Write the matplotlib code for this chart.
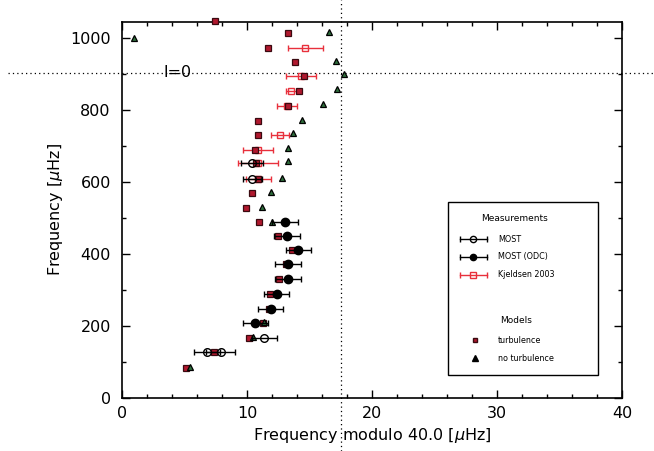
import matplotlib
matplotlib.use('Agg')
import matplotlib.pyplot as plt
from matplotlib.patches import Rectangle
from matplotlib.ticker import MultipleLocator

# models with turbulence (red squares): x = frequency modulo 40, y = frequency
turb_x = [7.44, 13.3, 11.7, 13.84, 14.6, 14.16, 13.25, 10.9, 10.9, 10.64, 10.7, 10.9, 10.4,
          9.9, 10.96, 12.5, 13.6, 13.1, 12.56, 11.84, 11.8, 11.3, 10.16, 7.36, 5.1]
turb_y = [1047, 1013, 971, 934, 893, 853, 812, 768, 731, 690, 653, 609, 570,
          528, 488, 450, 410, 371, 330, 288, 248, 208, 168, 127, 82]

# models without turbulence (triangles)
noturb_x = [1.0, 16.6, 17.1, 17.8, 17.2, 16.1, 14.4, 13.65, 13.3, 13.3, 12.8, 11.9, 11.2,
            12.0, 11.4, 10.5, 5.44]
noturb_y = [999, 1016, 937, 899, 858, 816, 773, 736, 694, 657, 611, 571, 531,
            490, 210, 170, 85]

# Kjeldsen 2003
kj_x = [14.65, 14.3, 13.55, 13.2, 12.65, 10.9, 10.9, 10.9]
kj_err = [1.4, 1.2, 0.45, 0.8, 0.75, 1.2, 1.6, 1.0]
kj_y = [971, 893, 853, 812, 731, 690, 653, 609]

# MOST
most_x = [10.4, 10.43, 11.4, 6.8, 7.9]
most_err = [0.9, 0.78, 1.0, 1.04, 1.14]
most_y = [653, 609, 168, 127, 127]

# MOST (ODC)
odc_x = [13.05, 13.2, 14.1, 13.27, 13.27, 12.38, 11.9, 10.68]
odc_err = [1.05, 1.04, 1.0, 1.03, 1.03, 1.02, 1.0, 1.03]
odc_y = [488, 450, 410, 371, 330, 288, 248, 208]

fig = plt.figure(figsize=(6.54, 4.51), dpi=100)
ax = fig.add_axes([0.1865, 0.1175, 0.7645, 0.8345])

sq_col = '#b0182e'
tri_col = '#2f6e3c'
kj_col = '#e8303c'

ax.errorbar(kj_x, kj_y, xerr=kj_err, fmt='s', ms=4.5, mfc='none', mec=kj_col,
            ecolor=kj_col, elinewidth=1.0, capsize=2.5, clip_on=False, zorder=3)
ax.plot(turb_x, turb_y, 's', ms=4.3, mfc=sq_col, mec='#3a0a10', mew=0.9, clip_on=False, zorder=4)
ax.plot(noturb_x, noturb_y, '^', ms=5, mfc=tri_col, mec='black', mew=0.9, clip_on=False, zorder=4)
ax.errorbar(most_x, most_y, xerr=most_err, fmt='o', ms=5.5, mfc='none', mec='black', mew=1.0,
            ecolor='black', elinewidth=1.0, capsize=2.5, clip_on=False, zorder=5)
ax.errorbar(odc_x, odc_y, xerr=odc_err, fmt='o', ms=6, mfc='black', mec='black',
            ecolor='black', elinewidth=1.0, capsize=2.5, clip_on=False, zorder=5)

# dotted guide lines reaching past the frame
ax.axvline(17.5, ymin=-0.141, ymax=1.058, color='black', lw=0.9, ls=(0, (1, 2.5)), clip_on=False)
ax.axhline(903, xmin=-0.228, xmax=1.07, color='black', lw=0.9, ls=(0, (1, 2.5)), clip_on=False)
ax.text(3.3, 905, 'l=0', fontsize=11.5, va='center', ha='left')

ax.set_xlim(0, 40)
ax.set_ylim(0, 1045)
ax.xaxis.set_major_locator(MultipleLocator(10))
ax.xaxis.set_minor_locator(MultipleLocator(2))
ax.yaxis.set_major_locator(MultipleLocator(200))
ax.yaxis.set_minor_locator(MultipleLocator(100))
ax.tick_params(which='both', direction='in', top=True, right=True, labelsize=11.5)
ax.tick_params(which='major', length=6, width=1)
ax.tick_params(which='minor', length=3, width=1)
ax.tick_params(axis='y', pad=8)
ax.tick_params(axis='x', pad=6)
for s in ax.spines.values():
    s.set_linewidth(1.2)

ax.set_xlabel('Frequency modulo 40.0 [$\\mu$Hz]', fontsize=11.5, labelpad=3)
ax.set_ylabel('Frequency [$\\mu$Hz]', fontsize=11.5, labelpad=4)

# legend box
tr = ax.transAxes
ax.add_patch(Rectangle((0.653, 0.061), 0.30, 0.461, transform=tr, fc='white',
                       ec='black', lw=1.0, zorder=6))
ax.text(0.786, 0.4775, 'Measurements', transform=tr, fontsize=6.5, ha='center', va='center', zorder=7)
ax.text(0.789, 0.2054, 'Models', transform=tr, fontsize=6.5, ha='center', va='center', zorder=7)

entries = [(0.4217, 'MOST', 'black', 'none'),
           (0.3755, 'MOST (ODC)', 'black', 'black'),
           (0.327, 'Kjeldsen 2003', kj_col, 'none')]
for ly, lab, col, fill in entries:
    ax.plot([0.676, 0.7294], [ly, ly], color=col, lw=1.0, transform=tr, zorder=7, clip_on=False)
    ax.plot([0.676, 0.7294], [ly, ly], ls='none', marker='|', ms=5, mew=1.0, color=col,
            transform=tr, zorder=7)
    mk = 's' if col == kj_col else 'o'
    ax.plot([0.703], [ly], marker=mk, ms=4.5, mfc=fill, mec=col, transform=tr, zorder=8)
    ax.text(0.7526, ly, lab, transform=tr, fontsize=5.8, va='center', zorder=7)

ax.plot([0.706], [0.1541], 's', ms=3.5, mfc=sq_col, mec='#3a0a10', transform=tr, zorder=8)
ax.text(0.7526, 0.1541, 'turbulence', transform=tr, fontsize=5.8, va='center', zorder=7)
ax.plot([0.706], [0.1055], '^', ms=4, mfc='black', mec='black', transform=tr, zorder=8)
ax.text(0.7526, 0.1055, 'no turbulence', transform=tr, fontsize=5.8, va='center', zorder=7)

fig.savefig('out.png', dpi=100)
